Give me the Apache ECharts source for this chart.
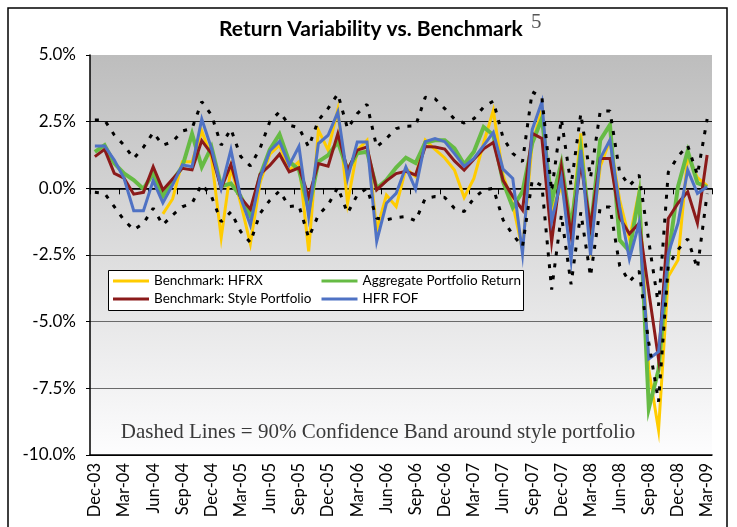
<!DOCTYPE html>
<html>
<head>
<meta charset="utf-8">
<script src="https://cdn.jsdelivr.net/npm/echarts@6/dist/echarts.min.js"></script>
<style>
    html, body { margin: 0; padding: 0; background: #fff; }
    #main { width: 737px; height: 527px; }
</style>
</head>
<body>
<div id="main"></div>
<script>
var months = [
    'Dec-03',
    'Jan-04','Feb-04','Mar-04','Apr-04','May-04','Jun-04','Jul-04','Aug-04','Sep-04','Oct-04','Nov-04','Dec-04',
    'Jan-05','Feb-05','Mar-05','Apr-05','May-05','Jun-05','Jul-05','Aug-05','Sep-05','Oct-05','Nov-05','Dec-05',
    'Jan-06','Feb-06','Mar-06','Apr-06','May-06','Jun-06','Jul-06','Aug-06','Sep-06','Oct-06','Nov-06','Dec-06',
    'Jan-07','Feb-07','Mar-07','Apr-07','May-07','Jun-07','Jul-07','Aug-07','Sep-07','Oct-07','Nov-07','Dec-07',
    'Jan-08','Feb-08','Mar-08','Apr-08','May-08','Jun-08','Jul-08','Aug-08','Sep-08','Oct-08','Nov-08','Dec-08',
    'Jan-09','Feb-09','Mar-09'
];

var yTicks = [-10, -7.5, -5, -2.5, 0, 2.5, 5];

// Benchmark: HFRX (starts Jul-04)
var hfrx = [
    null, null, null, null, null, null, null, -0.96, -0.4, 1.0, 1.0, 2.15, 1.15,
    -1.85, 0.78, -0.55, -2.08, 0.22, 1.28, 1.62, 0.68, 1.0, -2.36, 2.18, 1.43,
    2.95, -0.56, 1.43, 1.8, -1.55, -0.25, -0.68, 0.75, 0.44, 1.81, 1.46, 1.14,
    0.69, -0.34, 0.37, 1.7, 2.92, 0.5, -0.6, -2.3, 1.69, 2.94, -0.81, 0.06,
    -1.56, 2.06, -2.12, 0.81, 1.81, -0.44, -1.9, -0.12, -6.8, -9.06, -3.31, -2.69,
    1.2, 0.4, 0.1
];

// Aggregate Portfolio Return
var aggregate = [
    1.37, 1.62, 0.94, 0.56, 0.31, -0.02, 0.56, -0.29, 0.29, 0.81, 2.04, 0.8, 1.55,
    0.08, 0.18, -0.3, -1.03, 0.47, 1.45, 2.03, 1.0, 0.7, -0.8, 1.0, 1.24,
    1.74, 0.68, 1.31, 1.37, 0.0, 0.31, 0.78, 1.15, 0.95, 1.72, 1.8, 1.8,
    1.5, 0.9, 1.37, 2.3, 2.0, 0.25, -0.72, -0.12, 1.69, 2.62, -0.5, 0.94,
    -1.5, 1.44, -1.62, 1.81, 2.38, -1.94, -2.35, -0.25, -8.25, -6.8, -2.56, 0.06,
    1.4, 0.2, 0.05
];

// Benchmark: Style Portfolio
var style = [
    1.19, 1.46, 0.56, 0.38, -0.22, -0.15, 0.81, -0.06, 0.35, 0.75, 0.69, 1.79, 1.3,
    0.0, 0.9, -0.35, -0.78, 0.53, 0.86, 1.28, 0.62, 0.77, -0.31, 0.93, 0.83,
    2.05, 0.68, 1.43, 1.55, -0.06, 0.28, 0.55, 0.64, 0.5, 1.57, 1.55, 1.47,
    1.03, 0.68, 1.09, 1.48, 1.72, 0.3, -0.3, -0.81, 2.06, 1.87, -2.0, 0.81,
    -1.75, 0.94, -1.44, 1.12, 1.12, -1.1, -1.7, -1.31, -3.9, -6.4, -1.13, -0.56,
    -0.13, -1.31, 1.25
];

// HFR FOF
var hfrFof = [
    1.59, 1.59, 1.06, 0.38, -0.84, -0.84, 0.29, -0.54, 0.13, 0.88, 0.81, 2.6, 1.5,
    0.0, 1.45, -0.35, -1.38, 0.4, 1.4, 1.76, 0.87, 1.57, -1.06, 1.68, 1.99,
    2.86, 0.37, 1.74, 1.74, -1.99, -0.56, -0.19, 0.8, -0.03, 1.75, 1.87, 1.75,
    1.3, 0.82, 1.12, 1.6, 2.1, 0.72, 0.37, -2.45, 2.2, 3.25, -1.25, 0.38,
    -2.69, 1.44, -2.5, 1.12, 1.81, -0.7, -2.65, -1.3, -6.4, -6.13, -2.44, -1.31,
    0.69, -0.19, 0.06
];

// 90% confidence band around style portfolio
var bandUpper = [
    2.56, 2.56, 2.0, 1.62, 1.12, 1.54, 2.09, 1.62, 1.75, 2.15, 2.25, 3.25, 2.75,
    1.62, 2.22, 1.2, 0.84, 1.5, 2.5, 2.87, 2.37, 2.27, 1.55, 2.55, 3.0,
    3.54, 2.24, 2.8, 3.15, 1.55, 1.87, 2.24, 2.33, 2.34, 3.42, 3.36, 2.99,
    2.6, 2.45, 2.61, 3.05, 3.27, 1.9, 1.31, 1.0, 3.62, 3.41, -0.1, 2.6,
    0.1, 2.8, 0.4, 2.9, 2.9, 0.6, 0.1, 0.5, -2.0, -4.4, 0.6, 1.2,
    1.6, 0.5, 2.6
];
var bandLower = [
    -0.15, -0.19, -0.69, -1.19, -1.56, -1.31, -0.75, -1.37, -1.0, -0.69, -0.56, 0.15, -0.3,
    -1.25, -0.88, -1.62, -2.03, -0.94, -0.45, -0.1, -0.68, -0.65, -1.85, -1.0, -0.62,
    0.04, -0.93, -0.25, 0.0, -1.12, -1.18, -1.1, -1.06, -1.22, -0.37, -0.31, -0.34,
    -0.75, -0.87, -0.37, -0.06, 0.0, -1.18, -1.74, -2.18, 0.3, 0.1, -3.8, -1.0,
    -3.6, -0.9, -3.3, -0.7, -0.7, -2.9, -3.5, -3.1, -5.8, -8.0, -2.9, -2.3,
    -1.9, -3.0, -0.2
];

(function () {
    var font = 'Lato, "DejaVu Sans", sans-serif';
    var myChart = echarts.init(document.getElementById('main'));

    var mkLine = function (name, data, color, width) {
        return {
            name: name,
            type: 'line',
            data: data,
            showSymbol: false,
            symbol: 'none',
            animation: false,
            itemStyle: { color: color },
            lineStyle: { color: color, width: width, join: 'miter' }
        };
    };
    var mkBand = function (name, data) {
        return {
            name: name,
            type: 'line',
            data: data,
            symbol: 'none',
            animation: false,
            z: 3,
            itemStyle: { color: '#000' },
            lineStyle: { color: '#000', width: 3, type: [4, 8], cap: 'butt' }
        };
    };
    var legendText = { fontFamily: font, fontSize: 13.5, color: '#000', lineHeight: 14 };

    myChart.setOption({
        animation: false,
        title: {
            text: 'Return Variability vs. Benchmark',
            left: 214,
            top: 14,
            textStyle: { fontFamily: font, fontSize: 21, fontWeight: 'bold', color: '#000' }
        },
        grid: {
            left: 90, right: 25, top: 55, bottom: 72,
            show: true,
            borderWidth: 0,
            backgroundColor: {
                type: 'linear', x: 0, y: 0, x2: 0, y2: 1,
                colorStops: [
                    { offset: 0, color: '#bdbdbd' },
                    { offset: 1, color: '#fdfdfe' }
                ]
            }
        },
        legend: [
            {
                orient: 'vertical',
                left: 108, top: 269,
                itemWidth: 36, itemHeight: 3, itemGap: 4,
                icon: 'rect',
                z: 20,
                textStyle: legendText,
                data: ['Benchmark: HFRX', 'Benchmark: Style Portfolio']
            },
            {
                orient: 'vertical',
                left: 316.5, top: 269,
                itemWidth: 36, itemHeight: 3, itemGap: 4,
                icon: 'rect',
                z: 20,
                textStyle: legendText,
                data: ['Aggregate Portfolio Return', 'HFR FOF']
            }
        ],
        xAxis: [
            {
                type: 'category',
                data: months,
                boundaryGap: true,
                axisLine: { onZero: false, lineStyle: { color: '#000', width: 1.5 } },
                axisTick: { show: false },
                axisLabel: {
                    interval: 2, rotate: 90, margin: 8,
                    fontFamily: font, fontSize: 16.5, color: '#000'
                },
                splitLine: { show: false }
            },
            {
                type: 'category',
                data: months,
                boundaryGap: true,
                position: 'bottom',
                axisLine: { onZero: true, onZeroAxisIndex: 0, lineStyle: { color: '#000', width: 1.5 } },
                axisTick: { show: true, interval: 2, length: 6, lineStyle: { color: '#000' } },
                axisLabel: { show: false },
                splitLine: { show: false }
            }
        ],
        yAxis: {
            type: 'value',
            min: yTicks[0],
            max: yTicks[yTicks.length - 1],
            interval: 2.5,
            axisLine: { show: true, lineStyle: { color: '#000', width: 1.5 } },
            axisTick: { show: true, length: 4, lineStyle: { color: '#000' } },
            axisLabel: {
                margin: 14,
                fontFamily: font, fontSize: 17, color: '#000',
                formatter: function (v) { return v.toFixed(1) + '%'; }
            },
            splitLine: {
                show: true,
                lineStyle: {
                    width: 1.2,
                    color: ['#000', '#6a6a6a', '#6a6a6a', '#555', '#000', '#111', 'rgba(0,0,0,0)']
                }
            }
        },
        graphic: [
            {
                type: 'rect',
                shape: { x: 8, y: 8, width: 719, height: 560 },
                style: { fill: 'none', stroke: '#000', lineWidth: 1.5 },
                silent: true
            },
            {
                type: 'text',
                left: 531, top: 12,
                style: { text: '5', font: '21px "Liberation Serif", serif', fill: '#555' }
            },
            {
                type: 'rect',
                shape: { x: 108.5, y: 270.5, width: 415, height: 40 },
                style: { fill: '#fff', stroke: '#000', lineWidth: 1 },
                z: 10
            },
            {
                type: 'text',
                x: 378, y: 432,
                z: 10,
                style: {
                    text: 'Dashed Lines = 90% Confidence Band around style portfolio',
                    font: '21px "Liberation Serif", serif',
                    fill: '#3a3a3a',
                    textAlign: 'center',
                    textVerticalAlign: 'middle'
                }
            }
        ],
        series: [
            mkLine('Benchmark: HFRX', hfrx, '#ffcc00', 3),
            mkLine('Aggregate Portfolio Return', aggregate, '#66bb44', 4),
            mkLine('Benchmark: Style Portfolio', style, '#8b1a1a', 3),
            mkLine('HFR FOF', hfrFof, '#4f72c4', 3),
            mkBand('Upper band', bandUpper),
            mkBand('Lower band', bandLower)
        ]
    });

    window.addEventListener('resize', function () {
        myChart.resize();
    });
})();
</script>
</body>
</html>
